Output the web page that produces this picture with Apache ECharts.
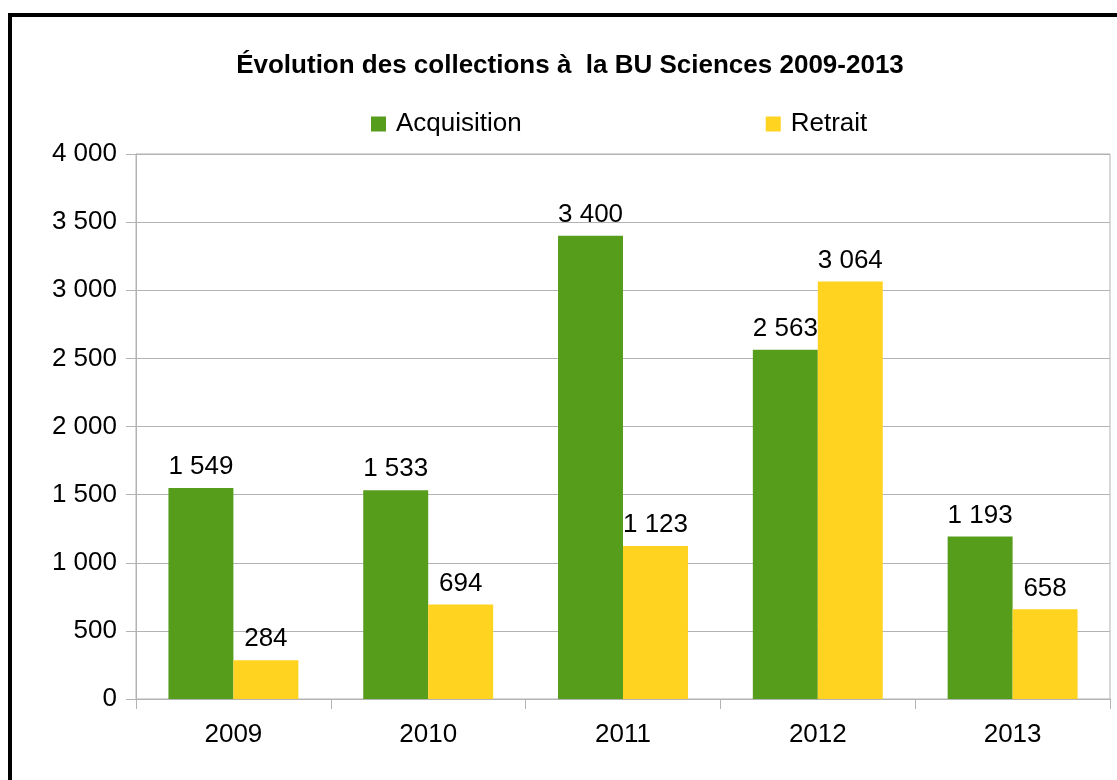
<!DOCTYPE html>
<html>
<head>
<meta charset="utf-8">
<script src="https://cdn.jsdelivr.net/npm/echarts@6/dist/echarts.min.js"></script>
<style>
  html, body { margin: 0; padding: 0; background: #fff; }
  #chart { width: 1117px; height: 780px; }
</style>
</head>
<body>
<div id="chart"></div>
<script>
const years = ["2009", "2010", "2011", "2012", "2013"];
const acquisition = [1549, 1533, 3400, 2563, 1193];
const retrait = [284, 694, 1123, 3064, 658];

const fontFamily = "'Liberation Sans', Arial, sans-serif";
const fmt = (v) => String(v).replace(/\B(?=(\d{3})+(?!\d))/g, " ");

const chart = echarts.init(document.getElementById("chart"));

chart.setOption({
  backgroundColor: "#fff",
  animation: false,
  textStyle: { fontFamily: fontFamily, color: "#000" },
  graphic: [
    {
      type: "rect",
      shape: { x: 10, y: 15, width: 1200, height: 900 },
      style: { fill: "none", stroke: "#000", lineWidth: 4 },
      silent: true,
    },
  ],
  title: {
    text: "Évolution des collections à  la BU Sciences 2009-2013",
    left: 565,
    textAlign: "center",
    top: 48,
    textStyle: { fontFamily: fontFamily, fontSize: 26, fontWeight: "bold", color: "#000" },
  },
  legend: {
    left: 366,
    top: 106,
    itemWidth: 15,
    itemHeight: 15,
    itemGap: 244,
    icon: "rect",
    textStyle: { fontFamily: fontFamily, fontSize: 26, color: "#000", padding: [0, 0, 0, 5] },
    data: ["Acquisition", "Retrait"],
  },
  grid: {
    left: 136,
    top: 154,
    right: 7,
    bottom: 81,
    show: true,
    borderColor: "#b3b3b3",
    borderWidth: 1,
    containLabel: false,
  },
  xAxis: {
    type: "category",
    data: years,
    axisLine: { lineStyle: { color: "#b3b3b3", width: 1 } },
    axisTick: { show: true, alignWithLabel: false, length: 10, lineStyle: { color: "#b3b3b3" } },
    axisLabel: { fontSize: 26, color: "#000", margin: 23, fontFamily: fontFamily },
  },
  yAxis: {
    type: "value",
    min: 0,
    max: 4000,
    interval: 500,
    axisLine: { show: true, lineStyle: { color: "#b3b3b3", width: 1 } },
    axisTick: { show: true, length: 10, lineStyle: { color: "#b3b3b3" } },
    splitLine: { lineStyle: { color: "#b3b3b3", width: 1 } },
    axisLabel: { fontSize: 26, color: "#000", margin: 19, fontFamily: fontFamily, formatter: fmt },
  },
  series: [
    {
      name: "Acquisition",
      type: "bar",
      data: acquisition,
      barGap: "0%",
      barCategoryGap: "33.3%",
      itemStyle: { color: "#579d1c" },
      label: {
        show: true,
        position: "top",
        distance: 8,
        fontSize: 26,
        color: "#000",
        fontFamily: fontFamily,
        formatter: (p) => fmt(p.value),
      },
    },
    {
      name: "Retrait",
      type: "bar",
      data: retrait,
      barGap: "0%",
      barCategoryGap: "33.3%",
      itemStyle: { color: "#ffd320" },
      label: {
        show: true,
        position: "top",
        distance: 8,
        fontSize: 26,
        color: "#000",
        fontFamily: fontFamily,
        formatter: (p) => fmt(p.value),
      },
    },
  ],
});

window.onresize = function () {
  chart.resize();
};
</script>
</body>
</html>
